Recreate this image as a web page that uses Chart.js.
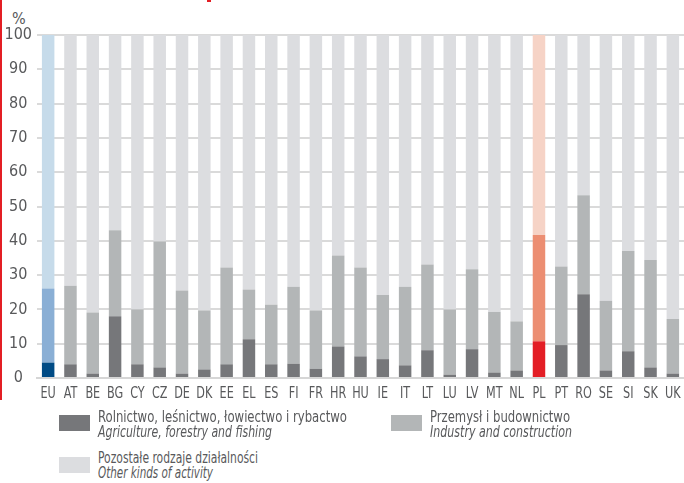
<!DOCTYPE html>
<html>
<head>
<meta charset="utf-8">
<script src="https://cdn.jsdelivr.net/npm/chart.js@4"></script>
<style>
  body { margin: 0; background: #fff; width: 684px; height: 483px; overflow: hidden; position: relative;
         font-family: 'Liberation Sans Narrow', 'DejaVu Sans Condensed', sans-serif; color: #58595b; }
  #wrap { position: absolute; left: 0; top: 0; width: 684px; height: 410px; }
  #redline { position: absolute; left: 0; top: 0; width: 2px; height: 400px; background: #e31e24; }
  #redmark { position: absolute; left: 207px; top: 0; width: 4px; height: 2px; background: #e31e24; }
  #pct { position: absolute; left: 12px; top: 9px; font-size: 16px; }
  .item { position: absolute; font-size: 16px; line-height: 15px; }
  .item span { display: block; white-space: nowrap; transform-origin: 0 50%; width: max-content; }
  .item .en { font-style: italic; }
  .sw { position: absolute; width: 31px; height: 16px; }
</style>
</head>
<body>
<div id="redline"></div>
<div id="redmark"></div>
<div id="pct">%</div>
<div id="wrap"><canvas id="myChart"></canvas></div>

<div class="sw" style="left:59px;top:415px;background:#76777a"></div>
<div class="item" style="left:98px;top:409px"><span data-w="249">Rolnictwo, leśnictwo, łowiectwo i rybactwo</span><span class="en" data-w="174">Agriculture, forestry and fishing</span></div>
<div class="sw" style="left:391px;top:415px;background:#b3b6b7"></div>
<div class="item" style="left:430px;top:409px"><span data-w="140">Przemysł i budownictwo</span><span class="en" data-w="142">Industry and construction</span></div>
<div class="sw" style="left:59px;top:457px;background:#dcdde0"></div>
<div class="item" style="left:98px;top:450px"><span data-w="160">Pozostałe rodzaje działalności</span><span class="en" data-w="115">Other kinds of activity</span></div>

<script>
// Var General
var countries = ['EU', 'AT', 'BE', 'BG', 'CY', 'CZ', 'DE', 'DK', 'EE', 'EL', 'ES', 'FI', 'FR', 'HR', 'HU', 'IE', 'IT', 'LT', 'LU', 'LV', 'MT', 'NL', 'PL', 'PT', 'RO', 'SE', 'SI', 'SK', 'UK'];

// shares in %
var agriculture = [4.5, 4.0, 1.3, 18.0, 4.0, 3.1, 1.3, 2.5, 4.0, 11.3, 4.0, 4.2, 2.7, 9.2, 6.3, 5.5, 3.7, 8.1, 1.0, 8.4, 1.6, 2.2, 10.7, 9.6, 24.4, 2.2, 7.8, 3.1, 1.3];
var industry = [21.6, 22.9, 17.8, 25.1, 16.0, 36.7, 24.2, 17.2, 28.2, 14.5, 17.4, 22.4, 17.0, 26.5, 25.9, 18.7, 22.9, 25.0, 19.0, 23.3, 17.7, 14.3, 31.0, 22.9, 28.9, 20.3, 29.2, 31.3, 15.9];
var other = [73.9, 73.1, 80.9, 56.9, 80.0, 60.2, 74.5, 80.3, 67.8, 74.2, 78.6, 73.4, 80.3, 64.3, 67.8, 75.8, 73.4, 66.9, 80.0, 68.3, 80.7, 83.5, 58.3, 67.5, 46.7, 77.5, 63.0, 65.6, 82.8];

var yTicks = [0, 10, 20, 30, 40, 50, 60, 70, 80, 90, 100];

// squeeze legend lines to the narrow width of the original font
document.querySelectorAll('.item span').forEach(function (s) {
  var k = s.getAttribute('data-w') / s.getBoundingClientRect().width;
  s.style.transform = 'scaleX(' + k + ')';
});

// colours: grey for countries, blue for EU, red for PL
function colours(grey, eu, pl) {
  return countries.map(function (c) {
    if (c === 'EU') return eu;
    if (c === 'PL') return pl;
    return grey;
  });
}

var font = "'Liberation Sans Narrow', 'DejaVu Sans Condensed', sans-serif";

// country codes under the bars, drawn a bit narrower (condensed look)
var narrowLabels = {
  id: 'narrowLabels',
  afterDraw: function (chart) {
    var s = chart.scales.x;
    var c = chart.ctx;
    c.save();
    c.font = '16px ' + font;
    c.fillStyle = '#58595b';
    c.textAlign = 'center';
    c.textBaseline = 'middle';
    s.ticks.forEach(function (t, i) {
      c.save();
      c.translate(s.getPixelForTick(i), s.top + 16);
      c.scale(0.78, 1);
      c.fillText(s.getLabelForValue(t.value), 0, 0);
      c.restore();
    });
    c.restore();
  }
};

var ctx = document.getElementById('myChart');
var myChart = new Chart(ctx, {
  type: 'bar',
  data: {
    labels: countries,
    datasets: [
      {
        data: agriculture,
        label: 'Rolnictwo, leśnictwo, łowiectwo i rybactwo',
        backgroundColor: colours('#76777a', '#004b85', '#e31e25')
      },
      {
        data: industry,
        label: 'Przemysł i budownictwo',
        backgroundColor: colours('#b3b6b7', '#8aafd5', '#ec8e72')
      },
      {
        data: other,
        label: 'Pozostałe rodzaje działalności',
        backgroundColor: colours('#dcdde0', '#c6dbea', '#f6d3c6')
      }
    ]
  },
  plugins: [narrowLabels],
  options: {
    responsive: true,
    maintainAspectRatio: false,
    animation: false,
    layout: { padding: { top: 35, left: 0, right: 0, bottom: 0 } },
    datasets: { bar: { categoryPercentage: 1, barPercentage: 0.56 } },
    plugins: { legend: { display: false }, tooltip: { enabled: false } },
    scales: {
      x: {
        stacked: true,
        grid: { display: false, drawTicks: false },
        border: { display: true, color: '#d6d6d6', width: 2 },
        ticks: { display: false, autoSkip: false },
        afterFit: function (s) { s.height = 32; }
      },
      y: {
        stacked: true,
        min: 0,
        max: 100,
        afterBuildTicks: function (s) { s.ticks = yTicks.map(function (v) { return { value: v }; }); },
        grid: { color: '#dadada', lineWidth: 2, drawTicks: false },
        border: { display: false },
        ticks: { color: '#58595b', font: { family: font, size: 16 }, padding: 5, crossAlign: 'center' },
        afterFit: function (s) { s.width = 37; }
      }
    }
  }
});
</script>
</body>
</html>
